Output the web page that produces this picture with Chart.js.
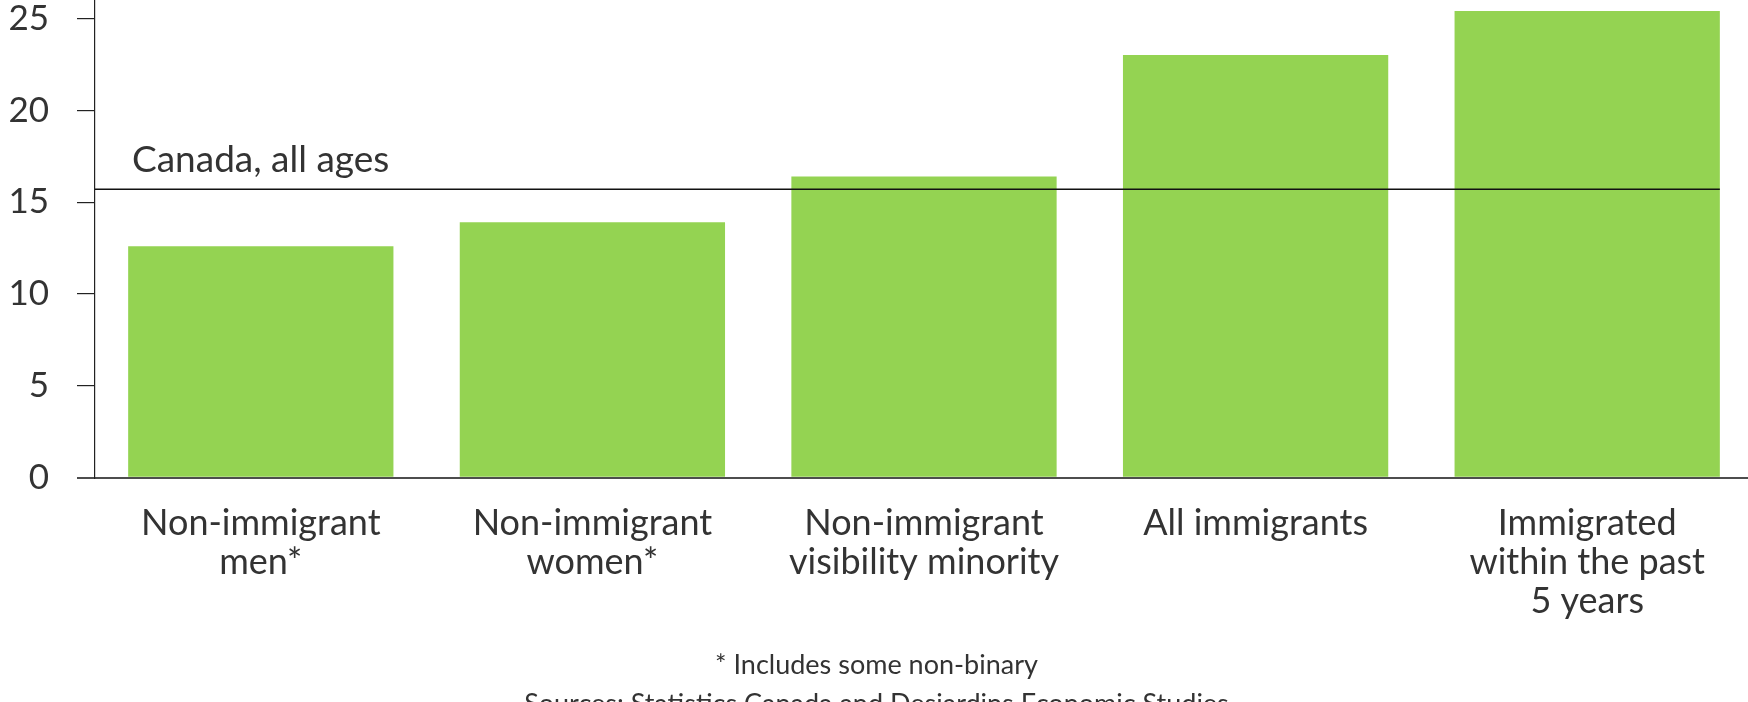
<!DOCTYPE html>
<html>
<head>
<meta charset="utf-8">
<script src="https://cdn.jsdelivr.net/npm/chart.js@4.4.1/dist/chart.umd.min.js"></script>
<style>
  html, body { margin: 0; padding: 0; background: #fff; overflow: hidden; }
  #wrap { position: absolute; left: 0; top: 0; width: 1754px; height: 723px; }
</style>
</head>
<body>
<div id="wrap"><canvas id="bar-Chart"></canvas></div>
<script>
// Chart data
const categories = [
    ['Non-immigrant', 'men*'],
    ['Non-immigrant', 'women*'],
    ['Non-immigrant', 'visibility minority'],
    ['All immigrants'],
    ['Immigrated', 'within the past', '5 years']
];
const shareValues = [12.6, 13.9, 16.4, 23.0, 25.4];
const canadaAllAges = 15.7;
const canadaLabel = 'Canada, all ages';
const yTicks = [0, 5, 10, 15, 20, 25];
const footNote = '* Includes some non-binary';
const sourceNote = 'Sources: Statistics Canada and Desjardins Economic Studies';

document.addEventListener('DOMContentLoaded', function(){
    const textColor = '#333333';
    const fontFamily = 'Lato, "Open Sans", sans-serif';

    // Draws the horizontal reference line and its label
    const referenceLine = {
        id: 'referenceLine',
        afterDatasetsDraw(chart) {
            const ctx = chart.ctx;
            const y = chart.scales.y.getPixelForValue(canadaAllAges);
            const bars = chart.getDatasetMeta(0).data;
            const last = bars[bars.length - 1];
            const xEnd = last.x + last.width / 2;
            const xStart = chart.chartArea.left;
            ctx.save();
            ctx.strokeStyle = '#111';
            ctx.lineWidth = 1.5;
            ctx.beginPath();
            ctx.moveTo(xStart, y);
            ctx.lineTo(xEnd, y);
            ctx.stroke();
            ctx.fillStyle = textColor;
            ctx.font = '37px ' + fontFamily;
            ctx.textAlign = 'left';
            ctx.textBaseline = 'alphabetic';
            ctx.fillText(canadaLabel, xStart + 37, y - 17);
            ctx.restore();
        }
    };

    const ctx = document.getElementById('bar-Chart').getContext('2d');
    new Chart(ctx, {
        type: 'bar',
        data: {
            labels: categories,
            datasets: [{
                label: 'Share',
                data: shareValues,
                backgroundColor: '#94d352',
                borderWidth: 0,
                barPercentage: 0.8,
                categoryPercentage: 1.0
            }]
        },
        options: {
            responsive: true,
            maintainAspectRatio: false,
            animation: false,
            layout: { padding: { top: 0, right: 1, bottom: 2.5, left: 0 } },
            plugins: {
                legend: { display: false },
                tooltip: { enabled: false },
                subtitle: {
                    display: true,
                    position: 'bottom',
                    text: footNote,
                    color: textColor,
                    font: { family: fontFamily, size: 27, lineHeight: 1.2 },
                    padding: { top: 21, bottom: 4 }
                },
                title: {
                    display: true,
                    position: 'bottom',
                    text: sourceNote,
                    color: textColor,
                    font: { family: fontFamily, size: 27, weight: 'normal', lineHeight: 1.2 },
                    padding: { top: 3, bottom: 0 }
                }
            },
            scales: {
                x: {
                    grid: { display: false },
                    border: { display: true, color: '#4d4d4d', width: 2 },
                    ticks: {
                        color: textColor,
                        font: { family: fontFamily, size: 36, lineHeight: 1.083 },
                        padding: 18,
                        maxRotation: 0,
                        autoSkip: false
                    },
                    afterFit(scale) { scale.height = 150; }
                },
                y: {
                    min: 0,
                    max: 26,
                    afterBuildTicks(scale) {
                        scale.ticks = yTicks.map(v => ({ value: v }));
                    },
                    grid: {
                        drawOnChartArea: false,
                        drawTicks: true,
                        tickLength: 18,
                        color: c => c.tick && c.tick.value === 0 ? '#4d4d4d' : '#222',
                        lineWidth: c => c.tick && c.tick.value === 0 ? 2 : 1.2
                    },
                    border: { display: true, color: '#222', width: 1.2 },
                    ticks: {
                        color: textColor,
                        font: { family: fontFamily, size: 35 },
                        padding: 28
                    },
                    afterFit(scale) {
                        scale.width = 95;
                        scale.paddingTop = 0;
                        scale.paddingBottom = 0;
                    }
                }
            }
        },
        plugins: [referenceLine]
    });
});
</script>
</body>
</html>
